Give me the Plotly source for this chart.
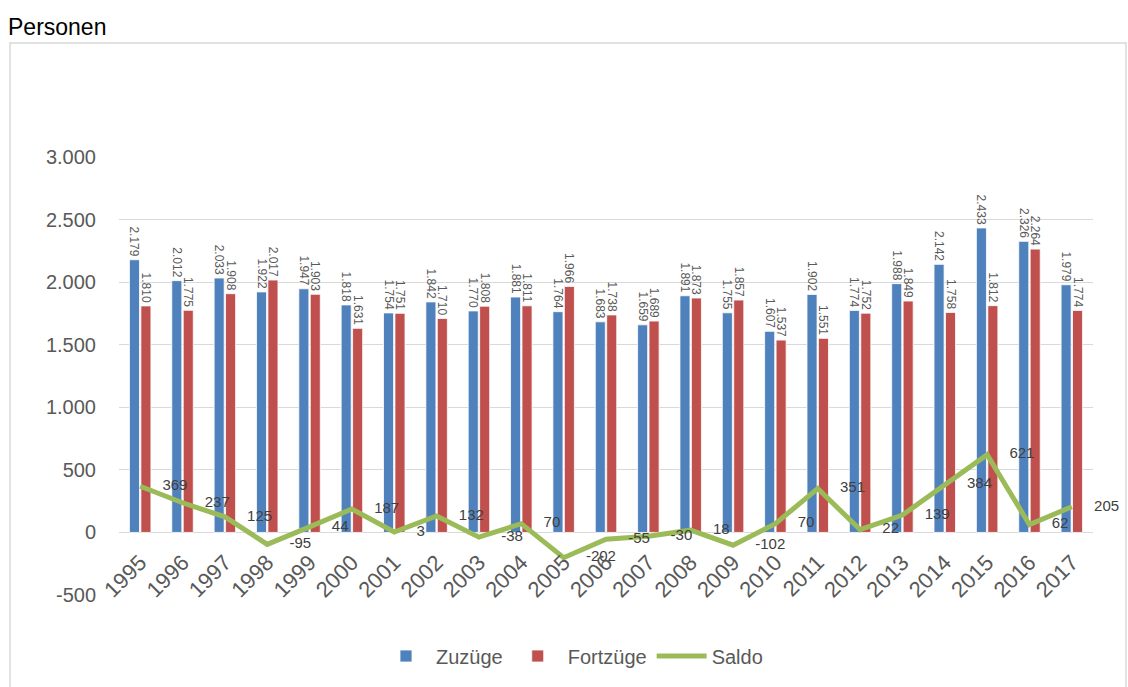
import plotly.graph_objects as go

years = [str(y) for y in range(1995, 2018)]
zuzuege = [2179, 2012, 2033, 1922, 1947, 1818, 1754, 1842, 1770, 1881, 1764, 1683,
           1659, 1891, 1755, 1607, 1902, 1774, 1988, 2142, 2433, 2326, 1979]
fortzuege = [1810, 1775, 1908, 2017, 1903, 1631, 1751, 1710, 1808, 1811, 1966, 1738,
             1689, 1873, 1857, 1537, 1551, 1752, 1849, 1758, 1812, 2264, 1774]
saldo = [369, 237, 125, -95, 44, 187, 3, 132, -38, 70, -202, -55,
         -30, 18, -102, 70, 351, 22, 139, 384, 621, 62, 205]
y_ticks = [-500, 0, 500, 1000, 1500, 2000, 2500, 3000]


def de(v):
    return f"{v:,}".replace(",", ".")


W, H = 1128, 687
L, R, T, B = 119, 35, 157, 92
pw, ph = W - L - R, H - T - B

fig = go.Figure()
fig.add_trace(go.Bar(
    x=years, y=zuzuege, name="Zuzüge",
    marker=dict(color="#4F81BD", line=dict(color="#ffffff", width=0.8)),
    text=[de(v) for v in zuzuege], textposition="outside", textangle=90,
    textfont=dict(family="Liberation Sans", size=12, color="#595959"),
    constraintext="none", cliponaxis=False,
))
fig.add_trace(go.Bar(
    x=years, y=fortzuege, name="Fortzüge",
    marker=dict(color="#C0504D", line=dict(color="#ffffff", width=0.8)),
    text=[de(v) for v in fortzuege], textposition="outside", textangle=90,
    textfont=dict(family="Liberation Sans", size=12, color="#595959"),
    constraintext="none", cliponaxis=False,
))
fig.add_trace(go.Scatter(
    x=years, y=saldo, name="Saldo", mode="lines+markers+text",
    line=dict(color="#9BBB59", width=5),
    marker=dict(size=34, color="rgba(0,0,0,0)"),
    text=[de(v) for v in saldo], textposition="middle right",
    textfont=dict(family="Liberation Sans", size=15, color="#404040"),
    cliponaxis=False,
))

fig.update_layout(
    width=W, height=H,
    margin=dict(l=L, r=R, t=T, b=B, autoexpand=False),
    paper_bgcolor="white", plot_bgcolor="white",
    barmode="group", bargap=0.46, bargroupgap=0.12,
    font=dict(family="Liberation Sans", color="#595959"),
    title=dict(text="Personen", xref="container", yref="container",
               x=8 / W, y=1 - 27 / H, xanchor="left", yanchor="middle",
               font=dict(family="Liberation Sans", size=23, color="#000000")),
    legend=dict(orientation="h", xanchor="center", yanchor="middle",
                x=(572 - L) / pw, y=(ph - (656 - T)) / ph,
                font=dict(size=20, color="#595959"), itemwidth=50,
                traceorder="normal"),
    showlegend=True,
    xaxis=dict(anchor="free", position=500 / 3500, showgrid=False,
               range=[-0.5, len(years) - 0.5],
               showline=False, ticks="", tickangle=-45, automargin=False,
               tickfont=dict(size=22, color="#595959"),
               ticklabelstandoff=12),
    yaxis=dict(range=[-500, 3000], domain=[0, 1], showgrid=True,
               gridcolor="#d9d9d9", gridwidth=1.3, zeroline=False,
               automargin=False,
               tickvals=y_ticks, ticktext=[de(v) for v in y_ticks],
               tickfont=dict(size=20, color="#595959"),
               ticklabelstandoff=22),
    shapes=[dict(type="rect", xref="paper", yref="paper", layer="below",
                 x0=(10 - L) / pw, x1=(1126 - L) / pw,
                 y0=(ph - (720 - T)) / ph, y1=(ph - (43 - T)) / ph,
                 line=dict(color="#d9d9d9", width=1.5))],
)

fig.write_html("out.html")
